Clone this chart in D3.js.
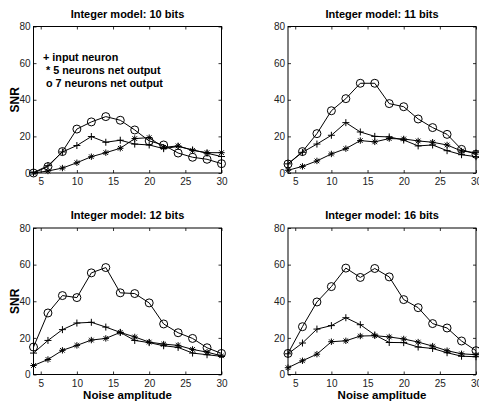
<!DOCTYPE html>
<html><head><meta charset="utf-8">
<script src="https://cdn.jsdelivr.net/npm/d3@7"></script>
<style>
body{margin:0;background:#fff;}
svg{display:block;font-family:"Liberation Sans",Arial,Helvetica,sans-serif;}
</style></head>
<body><svg id="c" width="479" height="403"></svg>
<script>
const noise = [4,6,8,10,12,14,16,18,20,22,24,26,28,30];
const xTicks = [5,10,15,20,25,30];
const yTicks = [0,20,40,60,80];
const titles = ["Integer model: 10 bits","Integer model: 11 bits","Integer model: 12 bits","Integer model: 16 bits"];
const legendLabels = ["+ input neuron"," * 5 neurons net output"," o 7 neurons net output"];

const input10 = [0.2,4,11.5,15,19.9,16.8,17.9,15.8,15.3,13.3,14.5,12.6,10.8,9];
const net5_10 = [0,1.1,2.7,5.6,8.9,11.1,13.5,18.8,19.3,14,14.8,12.4,11.1,11.1];
const net7_10 = [0,3.5,11.7,24,27.9,30.8,28.8,23.5,17.5,15.3,10.9,8.6,7.5,5.1];

const input11 = [5,11.3,15.8,20.6,27.5,22.4,20,19.7,18,14.8,15.3,12.2,10,8.9];
const net5_11 = [1.5,3.6,6.6,10.4,13.3,17.7,17,18.8,18.6,17.5,16.8,15.3,12,11.1];
const net7_11 = [4.9,11.7,21.5,34,40.6,49,49,37.9,36.2,29.5,24.8,21.1,12.9,10.2];

const input12 = [11.7,18.6,24.5,28.1,28.5,25.9,23,18.6,17.4,15.7,14.8,11.7,10.8,9.9];
const net5_12 = [4.9,8.2,13.2,15.9,18.8,19.7,23,20.5,17.7,16.6,15.9,13.7,12.2,10.2];
const net7_12 = [15,33.6,43.1,42,55.5,58.4,44.6,44.2,39.1,27.6,22.8,19.7,14.6,11.5];

const input16 = [11.3,17.2,24.8,26.7,31,27.2,21.6,17.5,17.4,15,14.2,11.9,10,9.7];
const net5_16 = [3.7,7.5,11.1,17.9,18.4,21,21.2,20.5,19.4,17.7,15.5,13,11.3,10.8];
const net7_16 = [11.5,26.1,39.6,48,58.1,53,57.9,53.3,40.9,36.5,27.8,25.4,18.3,13];

const panels = [
  {title:titles[0], input:input10, net5:net5_10, net7:net7_10, x0:33.5, y0:26.5, ylab:true, xlab:false, legend:true},
  {title:titles[1], input:input11, net5:net5_11, net7:net7_11, x0:288, y0:26.5, ylab:false, xlab:false, legend:false},
  {title:titles[2], input:input12, net5:net5_12, net7:net7_12, x0:33.5, y0:228, ylab:true, xlab:true, legend:false},
  {title:titles[3], input:input16, net5:net5_16, net7:net7_16, x0:288, y0:228, ylab:false, xlab:true, legend:false}
];
const W = 188, H = 146.5;
const svg = d3.select("#c");

panels.forEach(p => {
  const g = svg.append("g").attr("transform",`translate(${p.x0},${p.y0})`);
  const x = d3.scaleLinear().domain([4,30]).range([0,W]);
  const y = d3.scaleLinear().domain([0,80]).range([H,0]);

  const tickStyle = sel => {
    sel.select(".domain").remove();
    sel.selectAll("line").attr("stroke","#000").attr("stroke-width",0.8);
    sel.selectAll("text").attr("fill","#222").style("font-size","10px");
  };
  g.append("g").attr("transform",`translate(0,${H})`)
    .call(d3.axisBottom(x).tickValues(xTicks).tickSizeInner(-3).tickSizeOuter(0).tickPadding(5))
    .call(tickStyle);
  g.append("g")
    .call(d3.axisTop(x).tickValues(xTicks).tickSizeInner(-3).tickSizeOuter(0).tickFormat(""))
    .call(tickStyle);
  g.append("g")
    .call(d3.axisLeft(y).tickValues(yTicks).tickSizeInner(-3).tickSizeOuter(0).tickPadding(3))
    .call(tickStyle);
  g.append("g").attr("transform",`translate(${W},0)`)
    .call(d3.axisRight(y).tickValues(yTicks).tickSizeInner(-3).tickSizeOuter(0).tickFormat(""))
    .call(tickStyle);
  g.append("rect").attr("width",W).attr("height",H).attr("fill","none").attr("stroke","#000").attr("stroke-width",1);

  const line = d3.line().x((d,i)=>x(noise[i])).y(d=>y(d));
  const series = [
    {vals:p.net7, m:"o"},
    {vals:p.input, m:"+"},
    {vals:p.net5, m:"*"}
  ];
  series.forEach(s => {
    g.append("path").datum(s.vals).attr("d",line).attr("fill","none").attr("stroke","#000").attr("stroke-width",1);
    const mg = g.append("g");
    s.vals.forEach((v,i) => {
      const cx = x(noise[i]), cy = y(v);
      if (s.m === "o") {
        mg.append("circle").attr("cx",cx).attr("cy",cy).attr("r",4).attr("fill","none").attr("stroke","#000").attr("stroke-width",1);
      } else if (s.m === "+") {
        const r = 3.5;
        mg.append("path").attr("d",`M${cx-r},${cy}H${cx+r}M${cx},${cy-r}V${cy+r}`).attr("stroke","#000").attr("stroke-width",1);
      } else {
        const r = 3.2, d = r*0.72;
        mg.append("path").attr("d",`M${cx-r},${cy}H${cx+r}M${cx},${cy-r}V${cy+r}M${cx-d},${cy-d}L${cx+d},${cy+d}M${cx-d},${cy+d}L${cx+d},${cy-d}`).attr("stroke","#000").attr("stroke-width",1);
      }
    });
  });

  g.append("text").attr("x",W/2).attr("y",-9).attr("text-anchor","middle")
    .style("font-size","11px").style("font-weight","bold").text(p.title);
  if (p.ylab) {
    g.append("text").attr("transform",`translate(-15,${H/2}) rotate(-90)`).attr("text-anchor","middle")
      .style("font-size","12px").style("font-weight","bold").text("SNR");
  }
  if (p.xlab) {
    g.append("text").attr("x",W/2).attr("y",H+24).attr("text-anchor","middle")
      .style("font-size","11.5px").style("font-weight","bold").text("Noise amplitude");
  }
  if (p.legend) {
    legendLabels.forEach((t,i) => {
      g.append("text").attr("x",9.5).attr("y",34.5+i*13).attr("xml:space","preserve")
        .style("white-space","pre")
        .style("font-size","10.8px").style("font-weight","bold").text(t);
    });
  }
});
</script></body></html>
